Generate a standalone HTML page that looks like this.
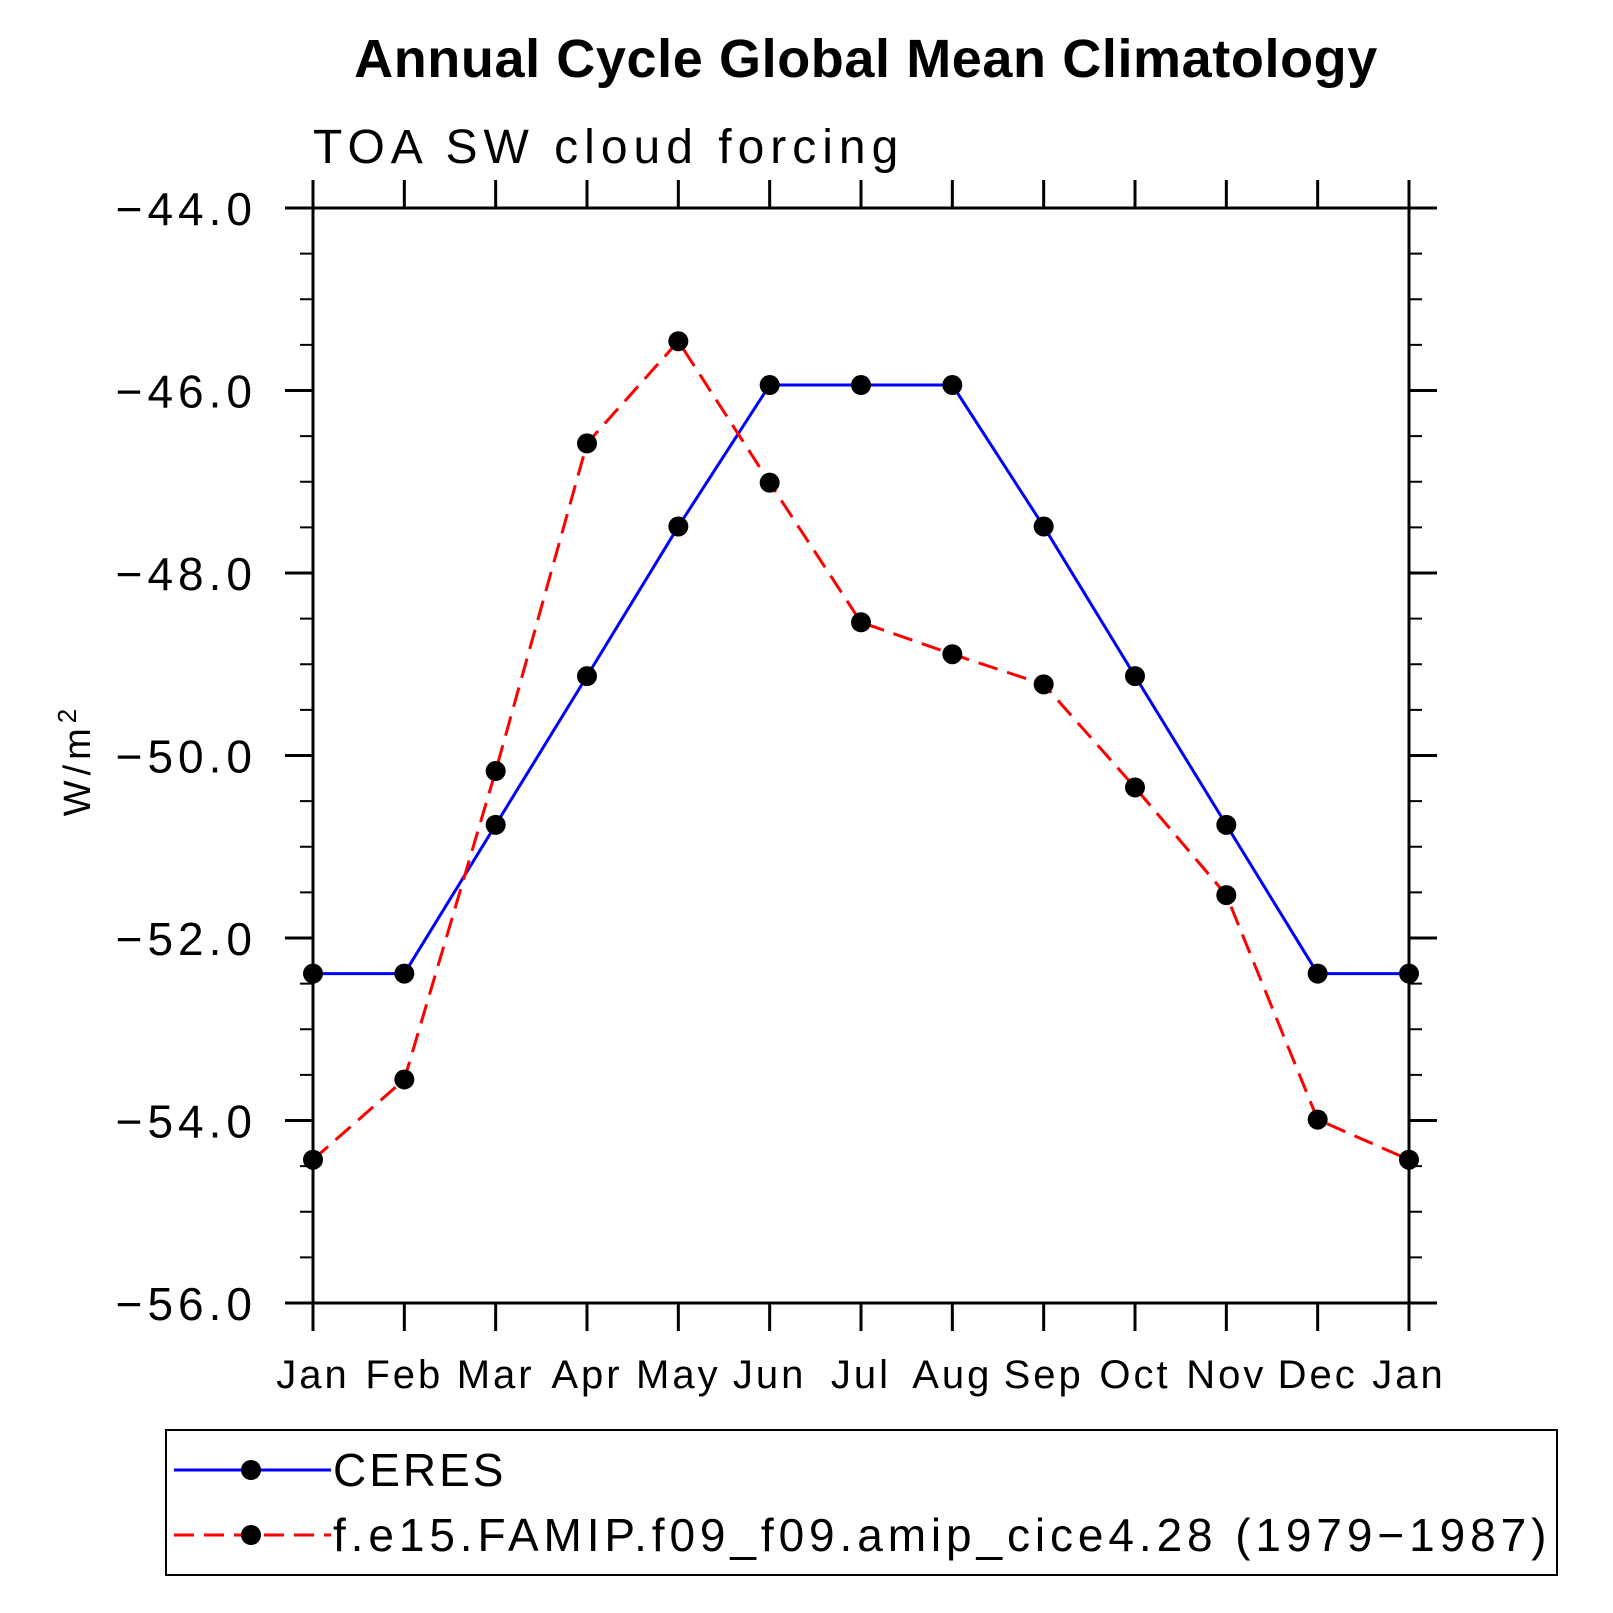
<!DOCTYPE html>
<html><head><meta charset="utf-8"><style>
html,body{margin:0;padding:0;background:#fff;}
svg{display:block;font-family:"Liberation Sans",sans-serif;}
</style></head><body>
<svg id="chart" width="1613" height="1613" viewBox="0 0 1613 1613" xmlns="http://www.w3.org/2000/svg">
<text x="866" y="77" text-anchor="middle" font-size="54" font-weight="bold" letter-spacing="0.6">Annual Cycle Global Mean Climatology</text>
<text x="313" y="163" font-size="48" letter-spacing="6" fill="#000">TOA SW cloud forcing</text>
<text transform="translate(90,760) rotate(-90)" text-anchor="middle" font-size="38" letter-spacing="5">W/m<tspan font-size="26" dy="-14">2</tspan></text>
<g id="axes"></g>
<g id="series"></g>
<rect x="166" y="1430" width="1391" height="145" fill="none" stroke="#000" stroke-width="2"/>
<g>
<line x1="174" y1="1470" x2="331" y2="1470" stroke="#0000ff" stroke-width="3"/>
<circle cx="251" cy="1470" r="10" fill="#000"/>
<text x="333" y="1486" font-size="46" letter-spacing="3">CERES</text>
</g>
<g>
<line x1="174" y1="1535" x2="331" y2="1535" stroke="#ff0000" stroke-width="3" stroke-dasharray="20,10"/>
<circle cx="251" cy="1535" r="10" fill="#000"/>
<text x="333" y="1551" font-size="46" letter-spacing="4.9">f.e15.FAMIP.f09_f09.amip_cice4.28 (1979−1987)</text>
</g>
</svg>
<script>
const months = ["Jan","Feb","Mar","Apr","May","Jun","Jul","Aug","Sep","Oct","Nov","Dec","Jan"];
const ceres = [-52.39,-52.39,-50.76,-49.13,-47.49,-45.94,-45.94,-45.94,-47.49,-49.13,-50.76,-52.39,-52.39];
const model = [-54.43,-53.55,-50.17,-46.58,-45.46,-47.01,-48.54,-48.89,-49.22,-50.35,-51.53,-53.99,-54.43];
const yTicks = [-44,-46,-48,-50,-52,-54,-56];
const yMin = -56, yMax = -44;
const L=313,R=1409,T=208,B=1303;
const NS="http://www.w3.org/2000/svg";
function xs(i){return L+(R-L)*i/(months.length-1);}
function ys(v){return B-(B-T)*(v-yMin)/(yMax-yMin);}
function mk(tag,attrs,parent){const e=document.createElementNS(NS,tag);for(const k in attrs)e.setAttribute(k,attrs[k]);parent.appendChild(e);return e;}
const ax=document.getElementById('axes');
const frame=mk('rect',{x:L,y:T,width:R-L,height:B-T,fill:'none',stroke:'#000','stroke-width':3},ax);


months.forEach((m,i)=>{
  const x=xs(i);
  const t1=mk('line',{x1:x,y1:T,x2:x,y2:T-28,stroke:'#000','stroke-width':3},ax);
  
  
  const t2=mk('line',{x1:x,y1:B,x2:x,y2:B+28,stroke:'#000','stroke-width':3},ax);
  
  
  const tx=mk('text',{x:x,y:1388,'text-anchor':'middle','font-size':40,'letter-spacing':3},ax);
  tx.textContent=m;
  
  
});
for(let v=yMin; v<=yMax+0.001; v+=0.5){
  const y=ys(v);
  const major=Math.abs(v-Math.round(v/2)*2)<0.01;
  const len=major?28:13;
  const a=mk('line',{x1:L,y1:y,x2:L-len,y2:y,stroke:'#000','stroke-width':major?3:2},ax);
  
  
  const b=mk('line',{x1:R,y1:y,x2:R+len,y2:y,stroke:'#000','stroke-width':major?3:2},ax);
  
  
}
yTicks.forEach(v=>{
  const t=mk('text',{x:257,y:ys(v)+17,'text-anchor':'end','font-size':46,'letter-spacing':5},ax);
  t.textContent='−'+Math.abs(v).toFixed(1);
  
  
});
const sg=document.getElementById('series');
function drawSeries(vals,color,dash,name){
  const pts=vals.map((v,i)=>xs(i)+','+ys(v)).join(' ');
  const pl=mk('polyline',{points:pts,fill:'none',stroke:color,'stroke-width':3},sg);
  if(dash)pl.setAttribute('stroke-dasharray',dash);
  
  
  vals.forEach((v,i)=>{
    const c=mk('circle',{cx:xs(i),cy:ys(v),r:10,fill:'#000'},sg);
    
    
  });
}
drawSeries(ceres,'#0000ff',null,'ceres');
drawSeries(model,'#ff0000','20,10','model');
</script>
</body></html>
